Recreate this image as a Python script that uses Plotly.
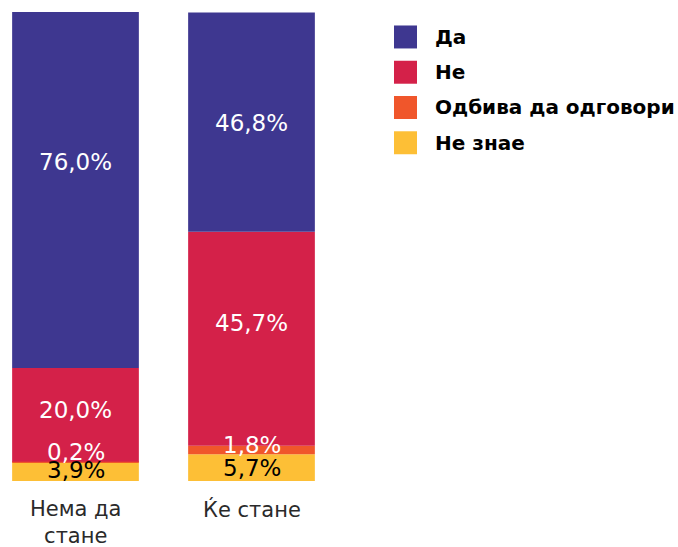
import plotly.graph_objects as go

# Categories and answer shares (percent)
categories = ["Нема да<br>стане", "Ќе стане"]
series_names = ["Да", "Не", "Одбива да одговори", "Не знае"]
da = [76.0, 46.8]
ne = [20.0, 45.7]
odbiva = [0.2, 1.8]
ne_znae = [3.9, 5.7]

# Stacked from the bottom up: Не знае, Одбива, Не, Да
stack_order = [("Не знае", ne_znae), ("Одбива да одговори", odbiva), ("Не", ne), ("Да", da)]
colors = {
    "Да": "#3E3790",
    "Не": "#D42149",
    "Одбива да одговори": "#F0562B",
    "Не знае": "#FDBF36",
}
label_colors = {"Да": "white", "Не": "white", "Одбива да одговори": "white", "Не знае": "black"}
# vertical nudges (px) for the value labels, per series and category
label_shift = {
    "Да": [28, -1],
    "Не": [5, 16],
    "Одбива да одговори": [10, 5],
    "Не знае": [2, 0],
}

W, H = 678, 547
plot_top, plot_bottom = 11.5, 481
cat_step = 176.0      # px between bar centres
first_center = 75.5   # px of first bar centre

fig = go.Figure()
xs = list(range(len(categories)))
base = [0.0] * len(categories)
annotations = []
for name, vals in stack_order:
    fig.add_trace(go.Bar(
        x=xs, y=vals, base=base[:], name=name,
        marker=dict(color=colors[name], line=dict(width=0)),
        width=0.72, showlegend=False, hoverinfo="skip",
    ))
    for i, v in enumerate(vals):
        annotations.append(dict(
            x=i, y=base[i] + v / 2, xref="x", yref="y",
            text=f"{v:.1f}%".replace(".", ","), showarrow=False,
            yshift=label_shift[name][i],
            font=dict(family="DejaVu Sans", size=23, color=label_colors[name]),
        ))
    base = [b + v for b, v in zip(base, vals)]

# Legend drawn as squares + text to the right of the bars
shapes = []
plot_h = plot_bottom - plot_top
def py(y):
    return (plot_bottom - y) / plot_h
for k, name in enumerate(series_names):
    cy = 36.5 + 35.3 * k
    shapes.append(dict(
        type="rect", xref="paper", yref="paper",
        x0=394 / W, x1=417 / W, y0=py(cy + 11.5), y1=py(cy - 11.5),
        fillcolor=colors[name], line=dict(width=0),
    ))
    annotations.append(dict(
        x=433 / W, y=py(cy), xref="paper", yref="paper",
        xanchor="left", yanchor="middle", text=name, showarrow=False,
        font=dict(family="DejaVu Sans", size=20, color="black", weight="bold"),
    ))

# Category labels under the bars
for i, cat in enumerate(categories):
    annotations.append(dict(
        x=i, y=py(495), xref="x", yref="paper",
        xanchor="center", yanchor="top", text=cat, showarrow=False,
        font=dict(family="DejaVu Sans", size=21, color="#2a2a2a"),
    ))

x0 = -first_center / cat_step
x1 = x0 + W / cat_step
fig.update_layout(
    width=W, height=H,
    margin=dict(l=0, r=0, t=plot_top, b=H - plot_bottom, pad=0),
    barmode="overlay",
    plot_bgcolor="white", paper_bgcolor="white",
    xaxis=dict(
        range=[x0, x1], showticklabels=False,
        showgrid=False, zeroline=False, showline=False, ticks="",
    ),
    yaxis=dict(range=[0, 100.1], visible=False, showgrid=False),
    shapes=shapes, annotations=annotations,
)

fig.write_html("out.html")
